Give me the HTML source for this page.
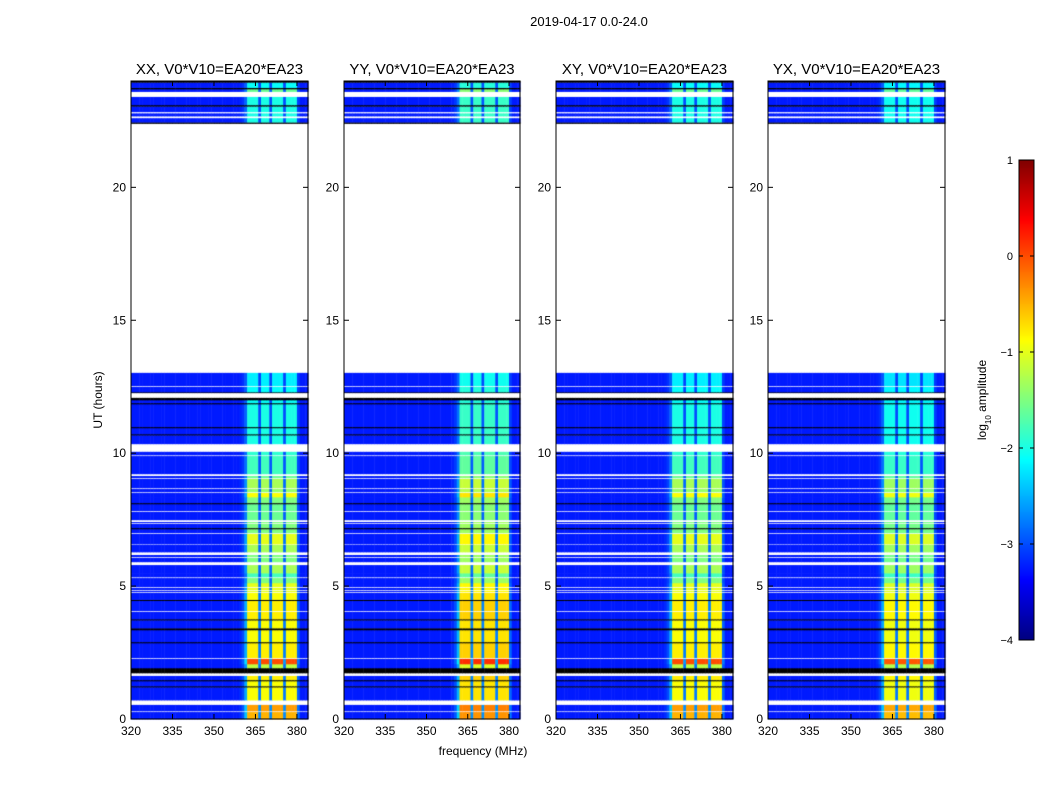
<!DOCTYPE html>
<html><head><meta charset="utf-8"><style>
html,body{margin:0;padding:0;background:#fff;}
#wrap{position:relative;width:1050px;height:800px;overflow:hidden;font-family:"Liberation Sans",sans-serif;}
canvas,svg{position:absolute;left:0;top:0;}
</style></head><body>
<div id="wrap">
<canvas id="cv" width="1050" height="800"></canvas>
<svg id="sv" width="1050" height="800"></svg>
</div>
<script>
// ---- data ----
const panelTitles = ["XX, V0*V10=EA20*EA23","YY, V0*V10=EA20*EA23","XY, V0*V10=EA20*EA23","YX, V0*V10=EA20*EA23"];
const panelRfiShift = [0, 0.15, 0, -0.05];
const freqStart = 320, freqEnd = 384;
const xTicks = [320,335,350,365,380];
const yTicks = [0,5,10,15,20];
const cbTicks = [-4,-3,-2,-1,0,1];
const bgLevel = -3.25;
// channel weight of the RFI band, 1 MHz channels from 320 MHz
const chanWeight = [0,0,0,0,0,0,0,0,0,0, 0,0,0,0,0,0,0,0,0,0, 0,0,0,0,0,0,0,0,0,0, 0,0,0,0,0,0,0,0,0,0.03,
 0.1,0.3,1,1,1,1,0.2,1,1,1, 0.2,1,1,1,1,0.2,1,1,1,1, 0.15,0,0,0];
// [startHour, endHour, kind(0 data,1 blank,2 flagged), rfi log amplitude]
const segments = [
[0,0.26,0,-0.5],[0.26,0.3,1,0],[0.3,0.53,0,-0.4],[0.53,0.71,1,0],[0.71,1.2,0,-0.9],[1.2,1.24,2,0],[1.24,1.43,0,-0.9],[1.43,1.47,2,0],[1.47,1.62,0,-0.8],[1.62,1.73,1,0],[1.73,1.92,2,0],[1.92,2.07,0,-1.2],[2.07,2.26,0,0.0],[2.26,2.3,1,0],[2.3,2.86,0,-0.8],[2.86,2.9,2,0],[2.9,3.35,0,-0.9],[3.35,3.42,2,0],[3.42,3.72,0,-0.9],[3.72,3.76,2,0],[3.76,4.03,0,-0.8],[4.03,4.07,1,0],[4.07,4.45,0,-0.8],[4.45,4.49,2,0],[4.49,4.74,0,-0.9],[4.74,4.78,1,0],[4.78,4.82,0,-1],[4.82,4.86,1,0],[4.86,4.93,0,-1],[4.93,4.97,1,0],[4.97,5.12,0,-1.0],[5.12,5.3,0,-1.5],[5.3,5.34,1,0],[5.34,5.49,0,-1.8],[5.49,5.79,0,-1.3],[5.79,5.91,1,0],[5.91,6.06,0,-1.5],[6.06,6.1,1,0],[6.1,6.17,0,-1.5],[6.17,6.28,1,0],[6.28,6.55,0,-1.3],[6.55,6.58,1,0],[6.58,6.96,0,-1.0],[6.96,7.0,1,0],[7.0,7.15,0,-1.5],[7.15,7.19,2,0],[7.19,7.34,0,-1.5],[7.34,7.38,1,0],[7.38,7.41,0,-1.5],[7.41,7.49,1,0],[7.49,7.79,0,-1.6],[7.79,7.83,1,0],[7.83,8.09,0,-1.6],[8.09,8.13,2,0],[8.13,8.35,0,-1.5],[8.35,8.5,0,-0.9],[8.5,8.54,1,0],[8.54,8.65,0,-1.4],[8.65,8.69,1,0],[8.69,9.03,0,-1.3],[9.03,9.07,1,0],[9.07,9.14,0,-1.6],[9.14,9.22,1,0],[9.22,9.89,0,-1.8],[9.89,9.93,1,0],[9.93,10.05,0,-1.9],[10.05,10.35,1,0],[10.35,10.68,0,-2.0],[10.68,10.72,2,0],[10.72,10.95,0,-2.0],[10.95,10.99,2,0],[10.99,11.85,0,-2.0],[11.85,11.89,2,0],[11.89,12.0,0,-2.1],[12.0,12.08,2,0],[12.08,12.27,1,0],[12.27,12.3,2,0],[12.3,12.49,0,-2.1],[12.49,12.53,1,0],[12.53,13.02,0,-2.2],[13.02,22.4,1,0],
[22.4,22.45,2,0],[22.45,22.6,0,-2.0],[22.6,22.68,1,0],[22.68,22.78,0,-2.0],[22.78,22.84,1,0],[22.84,23.05,0,-2.0],[23.05,23.1,2,0],[23.1,23.4,0,-2.0],[23.4,23.6,1,0],[23.6,23.7,0,-1.6],[23.7,23.75,2,0],[23.75,23.95,0,-2.1],[23.95,24,2,0]
];
// ---- layout ----
const panels = [[131,308],[344,520],[556,733],[768,945]];
const yTop = 81, yBot = 719;
function yOf(t){ return yBot - t*(yBot-yTop)/24; }
function jet(v){ v=Math.max(0,Math.min(1,(v+4)/5)); const c=x=>Math.round(255*Math.max(0,Math.min(1,1.5-Math.abs(x))));
 return `rgb(${c(4*v-3)},${c(4*v-2)},${c(4*v-1)})`; }
const ctx = document.getElementById('cv').getContext('2d');
panels.forEach((p,pi)=>{
 const xOf = f => p[0] + (f-freqStart)*(p[1]-p[0])/(freqEnd-freqStart);
 segments.forEach(s=>{
  if(s[2]===1) return;
  const y0 = yOf(s[1]), y1 = yOf(s[0]);
  for(let c=0;c<chanWeight.length;c++){
   const x0 = xOf(freqStart+c), x1 = xOf(freqStart+c+1);
   if(s[2]===2){ ctx.fillStyle='#000'; }
   else { const r = s[3]+panelRfiShift[pi]; ctx.fillStyle = jet(bgLevel + chanWeight[c]*(r-bgLevel)); }
   ctx.fillRect(x0, y0, x1-x0+0.5, y1-y0+0.3);
  }
 });
});
// colorbar
const cbX=1019, cbW=15, cbT=160, cbB=640;
for(let y=cbT;y<cbB;y++){ ctx.fillStyle=jet(1-(y-cbT+0.5)/(cbB-cbT)*5); ctx.fillRect(cbX,y,cbW,1); }
// ---- svg ----
const sv = document.getElementById('sv'); const NS='http://www.w3.org/2000/svg';
function mk(tag,attrs,txt){ const e=document.createElementNS(NS,tag); for(const k in attrs) e.setAttribute(k,attrs[k]); if(txt!==undefined) e.textContent=txt; sv.appendChild(e); return e; }
const sup = mk('text',{x:589,y:26,'text-anchor':'middle','font-size':13},'2019-04-17 0.0-24.0');


panels.forEach((p,pi)=>{
 const xOf = f => p[0] + (f-freqStart)*(p[1]-p[0])/(freqEnd-freqStart);
 const fr = mk('rect',{x:p[0],y:yTop,width:p[1]-p[0],height:yBot-yTop,fill:'none',stroke:'#000','stroke-width':1});
 
 
 const tt = mk('text',{x:(p[0]+p[1])/2,y:74,'text-anchor':'middle','font-size':15},panelTitles[pi]);
 
 
 xTicks.forEach(f=>{
  const x=xOf(f);
  mk('line',{x1:x,x2:x,y1:yBot,y2:yBot-5,stroke:'#000'});
  mk('line',{x1:x,x2:x,y1:yTop,y2:yTop+5,stroke:'#000'});
  const l = mk('text',{x:x,y:yBot+16,'text-anchor':'middle','font-size':12},String(f));
  
  
 });
 yTicks.forEach(t=>{
  const y=yOf(t);
  mk('line',{x1:p[0],x2:p[0]+5,y1:y,y2:y,stroke:'#000'});
  mk('line',{x1:p[1],x2:p[1]-5,y1:y,y2:y,stroke:'#000'});
  const l = mk('text',{x:p[0]-5,y:y+4,'text-anchor':'end','font-size':12},String(t));
  
  
 });
});
const xl = mk('text',{x:483,y:755,'text-anchor':'middle','font-size':12},'frequency (MHz)');


const yl = mk('text',{x:0,y:0,'text-anchor':'middle','font-size':12,transform:'translate(102,400) rotate(-90)'},'UT (hours)');


const cbf = mk('rect',{x:cbX,y:cbT,width:cbW,height:cbB-cbT,fill:'none',stroke:'#000'});


cbTicks.forEach(v=>{
 const y = cbT + (1-v)/5*(cbB-cbT);
 mk('line',{x1:cbX,x2:cbX+4,y1:y,y2:y,stroke:'#000'});
 mk('line',{x1:cbX+cbW,x2:cbX+cbW-4,y1:y,y2:y,stroke:'#000'});
 const l = mk('text',{x:1013,y:y+4,'text-anchor':'end','font-size':11},v<0?'\u2212'+(-v):String(v));
 
 
});
const cl = mk('text',{x:0,y:0,'text-anchor':'middle','font-size':12,transform:'translate(986,400) rotate(-90)'});
cl.innerHTML='log<tspan baseline-shift="sub" font-size="8">10</tspan> amplitude';


</script>
</body></html>
